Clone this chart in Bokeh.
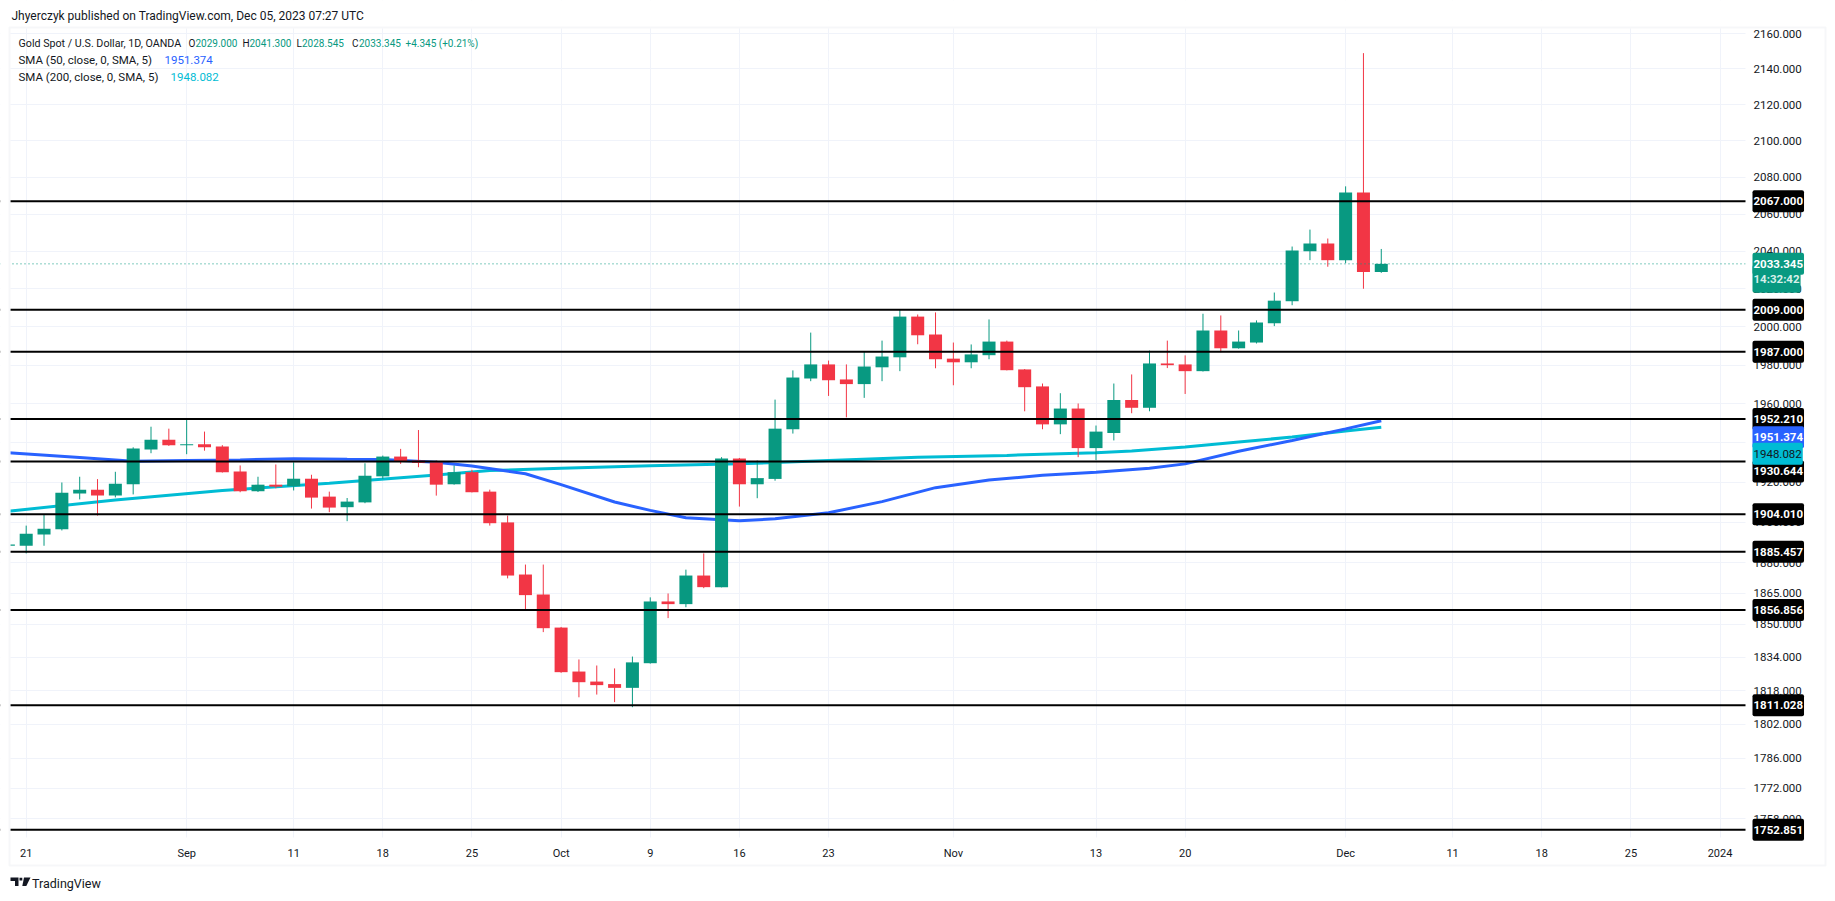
import numpy as np
from bokeh.plotting import figure
from bokeh.models import (Range1d, FixedTicker, Span, Label, PolyAnnotation,
                          BoxAnnotation, ColumnDataSource)
from bokeh.embed import file_html
from bokeh.resources import INLINE

# ---------------- data ----------------
dates = ["2023-08-18",
         "2023-08-21", "2023-08-22", "2023-08-23", "2023-08-24", "2023-08-25",
         "2023-08-28", "2023-08-29", "2023-08-30", "2023-08-31", "2023-09-01",
         "2023-09-04", "2023-09-05", "2023-09-06", "2023-09-07", "2023-09-08",
         "2023-09-11", "2023-09-12", "2023-09-13", "2023-09-14", "2023-09-15",
         "2023-09-18", "2023-09-19", "2023-09-20", "2023-09-21", "2023-09-22",
         "2023-09-25", "2023-09-26", "2023-09-27", "2023-09-28", "2023-09-29",
         "2023-10-02", "2023-10-03", "2023-10-04", "2023-10-05", "2023-10-06",
         "2023-10-09", "2023-10-10", "2023-10-11", "2023-10-12", "2023-10-13",
         "2023-10-16", "2023-10-17", "2023-10-18", "2023-10-19", "2023-10-20",
         "2023-10-23", "2023-10-24", "2023-10-25", "2023-10-26", "2023-10-27",
         "2023-10-30", "2023-10-31", "2023-11-01", "2023-11-02", "2023-11-03",
         "2023-11-06", "2023-11-07", "2023-11-08", "2023-11-09", "2023-11-10",
         "2023-11-13", "2023-11-14", "2023-11-15", "2023-11-16", "2023-11-17",
         "2023-11-20", "2023-11-21", "2023-11-22", "2023-11-23", "2023-11-24",
         "2023-11-27", "2023-11-28", "2023-11-29", "2023-11-30", "2023-12-01",
         "2023-12-04", "2023-12-05"]

opens = [1888.4,
         1888.4, 1894.0, 1896.6, 1914.5, 1916.4,
         1913.5, 1919.1, 1936.7, 1941.7, 1938.8,
         1939.3, 1938.2, 1925.5, 1915.6, 1918.9,
         1918.1, 1921.9, 1912.9, 1907.6, 1910.0,
         1923.1, 1933.1, 1931.1, 1930.2, 1919.1,
         1925.2, 1915.4, 1900.0, 1874.2, 1864.4,
         1848.3, 1827.1, 1822.3, 1821.1, 1819.3,
         1831.1, 1861.0, 1859.7, 1873.7, 1868.0,
         1932.1, 1919.1, 1921.8, 1947.0, 1973.1,
         1980.4, 1972.6, 1970.2, 1978.9, 1984.1,
         2005.4, 1996.0, 1983.4, 1981.5, 1985.2,
         1992.3, 1977.8, 1969.0, 1949.5, 1957.6,
         1937.4, 1945.1, 1962.0, 1958.0, 1980.9,
         1980.4, 1976.9, 1998.1, 1988.8, 1991.8,
         2001.9, 2013.5, 2040.1, 2044.2, 2035.3,
         2071.8, 2029.000]

highs = [1895.0,
         1898.4, 1903.9, 1920.0, 1922.9, 1921.7,
         1925.4, 1937.8, 1948.3, 1947.3, 1952.2,
         1945.8, 1938.9, 1928.6, 1922.9, 1929.1,
         1930.2, 1923.9, 1915.4, 1912.2, 1929.7,
         1933.6, 1937.0, 1946.6, 1931.1, 1928.6,
         1926.4, 1916.4, 1903.4, 1879.1, 1879.1,
         1848.6, 1832.9, 1830.0, 1828.6, 1834.3,
         1863.0, 1864.9, 1876.6, 1884.6, 1932.8,
         1932.4, 1931.1, 1962.2, 1977.3, 1997.0,
         1982.4, 1980.4, 1987.1, 1992.8, 2009.1,
         2006.5, 2007.6, 1991.8, 1990.8, 2003.9,
         1992.8, 1978.0, 1970.5, 1965.5, 1960.2,
         1948.9, 1970.5, 1975.2, 1987.6, 1992.8,
         1985.1, 2006.9, 2006.0, 1998.1, 2003.4,
         2018.1, 2042.6, 2051.7, 2046.9, 2075.1,
         2148.9, 2041.300]

lows = [1884.5,
        1884.6, 1888.4, 1896.0, 1911.5, 1903.4,
        1912.5, 1914.0, 1934.8, 1938.5, 1934.3,
        1936.1, 1925.0, 1915.1, 1915.2, 1917.1,
        1916.0, 1906.9, 1905.1, 1900.6, 1909.6,
        1921.8, 1929.4, 1927.7, 1913.4, 1918.9,
        1915.0, 1898.4, 1872.3, 1857.1, 1846.1,
        1826.5, 1814.8, 1816.1, 1812.5, 1810.1,
        1830.9, 1852.9, 1858.2, 1867.5, 1867.9,
        1907.9, 1912.1, 1920.9, 1944.8, 1971.7,
        1964.1, 1953.1, 1963.1, 1971.7, 1976.9,
        1990.9, 1978.4, 1969.6, 1978.4, 1983.1,
        1977.3, 1956.2, 1947.0, 1944.5, 1932.8,
        1931.3, 1941.3, 1955.2, 1956.2, 1978.5,
        1965.1, 1976.7, 1986.7, 1988.6, 1991.3,
        2000.4, 2011.4, 2035.3, 2031.8, 2033.7,
        2020.1, 2028.545]

closes = [1889.0,
          1894.3, 1896.9, 1914.9, 1916.4, 1913.5,
          1919.4, 1937.2, 1941.7, 1938.8, 1939.4,
          1937.8, 1925.2, 1915.6, 1918.9, 1917.9,
          1921.9, 1912.4, 1907.4, 1910.4, 1923.4,
          1933.1, 1930.7, 1929.9, 1918.9, 1925.2,
          1915.1, 1899.6, 1873.7, 1864.1, 1848.0,
          1826.8, 1822.0, 1820.6, 1819.3, 1831.5,
          1861.0, 1859.7, 1873.7, 1868.0, 1932.1,
          1919.1, 1922.2, 1947.3, 1973.6, 1980.4,
          1972.2, 1970.2, 1979.3, 1984.5, 2005.4,
          1995.6, 1983.1, 1981.5, 1985.6, 1992.3,
          1977.4, 1968.6, 1949.5, 1957.6, 1937.4,
          1945.8, 1962.0, 1958.0, 1980.9, 1980.0,
          1976.9, 1998.1, 1988.8, 1992.3, 2002.3,
          2013.8, 2040.5, 2044.2, 2035.3, 2071.8,
          2029.0, 2033.345]

sma_dates = ["2023-08-18", "2023-08-24", "2023-08-29", "2023-09-01", "2023-09-06",
             "2023-09-11", "2023-09-14", "2023-09-18", "2023-09-21", "2023-09-25",
             "2023-09-28", "2023-10-02", "2023-10-05", "2023-10-09", "2023-10-11",
             "2023-10-16", "2023-10-18", "2023-10-23", "2023-10-26", "2023-10-31",
             "2023-11-03", "2023-11-08", "2023-11-13", "2023-11-16", "2023-11-20",
             "2023-11-23", "2023-11-28", "2023-12-01", "2023-12-05"]
sma50 = [1935.0, 1932.6, 1930.7, 1931.1, 1931.4,
         1932.0, 1931.7, 1931.6, 1930.2, 1928.3,
         1924.4, 1918.9, 1910.2, 1906.0, 1902.3,
         1900.8, 1901.8, 1904.8, 1910.4, 1917.4,
         1921.2, 1923.6, 1925.2, 1927.2, 1929.4,
         1935.8, 1941.3, 1947.2, 1951.374]

sma200_dates = ["2023-08-18", "2023-08-28", "2023-09-05", "2023-09-13", "2023-09-21",
                "2023-09-26", "2023-10-02", "2023-10-09", "2023-10-16", "2023-10-23",
                "2023-10-30", "2023-11-06", "2023-11-13", "2023-11-15", "2023-11-20",
                "2023-11-23", "2023-11-28", "2023-12-01", "2023-12-05"]
sma200 = [1905.6, 1911.2, 1916.0, 1919.6, 1923.8,
          1926.0, 1927.2, 1928.4, 1929.4, 1931.1,
          1932.8, 1933.7, 1935.0, 1935.9, 1937.9,
          1940.5, 1943.0, 1946.1, 1948.082]

levels = [2067.000, 2009.000, 1987.000, 1952.210, 1930.644,
          1904.010, 1885.457, 1856.856, 1811.028, 1752.851]
last_price = 2033.345
countdown = "14:32:42"

ytick_vals = [2160, 2140, 2120, 2100, 2080, 2060, 2040, 2020, 2000, 1980, 1960,
              1940, 1920, 1900, 1880, 1865, 1850, 1834, 1818, 1802, 1786, 1772, 1758]
xtick_dates = ["2023-08-21", "2023-09-01", "2023-09-11", "2023-09-18", "2023-09-25",
               "2023-10-02", "2023-10-09", "2023-10-16", "2023-10-23", "2023-11-01",
               "2023-11-13", "2023-11-20", "2023-12-01", "2023-12-11", "2023-12-18",
               "2023-12-25", "2024-01-01"]
xtick_labels = ["21", "Sep", "11", "18", "25", "Oct", "9", "16", "23", "Nov",
                "13", "20", "Dec", "11", "18", "25", "2024"]

# ---------------- layout helpers (page pixels -> data space) ----------------
ORIGIN = "2023-08-21"
def bar_index(ds):
    return [int(np.busday_count(ORIGIN, d)) for d in ds]

BAR0_PX, BAR_PX = 25.7, 17.83          # page x of first labelled bar, bar spacing
def X(px):
    return (px - BAR0_PX) / BAR_PX
def Y(py):                               # log price scale
    return 2160.0 * np.exp(-(py - 33.0) / 3812.0)

W, H = 1832, 898
PL, PR, PT, PB = 10, 1745, 28, 837       # plotting pane
UP, DN = "#089981", "#F23645"
DARK = "#131722"
FONT = "Roboto"

idx = bar_index(dates)
src = ColumnDataSource(dict(
    x=idx, o=opens, h=highs, l=lows, c=closes,
    top=[max(a, b) for a, b in zip(opens, closes)],
    bot=[min(a, b) for a, b in zip(opens, closes)],
    col=[UP if c >= o else DN for o, c in zip(opens, closes)],
))

p = figure(width=W, height=H, min_border=0,
           x_range=Range1d(X(0), X(W)), y_range=Range1d(Y(H), Y(0)),
           y_axis_type="log", x_axis_location=None, y_axis_location=None,
           output_backend="svg", toolbar_location=None, tools="")
p.outline_line_color = None
p.background_fill_color = "white"
p.border_fill_color = "white"

yt = FixedTicker(ticks=ytick_vals, minor_ticks=[])
xt = FixedTicker(ticks=bar_index(xtick_dates), minor_ticks=[])
p.ygrid.ticker = yt
p.xgrid.ticker = xt
p.grid.grid_line_color = "#f0f3fa"
p.grid.grid_line_width = 1

# moving averages
p.line(bar_index(sma200_dates), sma200, line_color="#00BCD4", line_width=3)
p.line(bar_index(sma_dates), sma50, line_color="#2962FF", line_width=3)

# candles
p.segment(x0="x", y0="l", x1="x", y1="h", line_color="col", line_width=1, source=src)
p.vbar(x="x", width=0.73, top="top", bottom="bot", fill_color="col", line_color=None, source=src)

# horizontal levels
for lv in levels:
    p.add_layout(Span(location=lv, dimension="width", line_color="black", line_width=2))
p.add_layout(Span(location=last_price, dimension="width", line_color=UP,
                  line_width=1, line_dash="1 3"))

# mask everything outside the plotting pane
for l_, r_, t_, b_ in [(0, W, 0, PT), (0, W, PB, H), (0, PL, 0, H), (PR, W, 0, H)]:
    p.add_layout(BoxAnnotation(left=X(l_), right=X(r_), top=Y(t_), bottom=Y(b_),
                               fill_color="white", fill_alpha=1, line_color=None,
                               line_alpha=0))

# outer frame
p.add_layout(PolyAnnotation(xs=[X(9), X(1825), X(1825), X(9)],
                            ys=[Y(27), Y(27), Y(865), Y(865)],
                            fill_alpha=0, line_color="#e0e3eb", line_width=2))

# --------------- text ---------------
def lab(text, px, py, color=DARK, size="10.5px", bold=False, align="left"):
    p.add_layout(Label(x=X(px), y=Y(py), text=text, text_font=FONT, text_font_size=size,
                       text_color=color, text_baseline="middle", text_align=align,
                       text_font_style="bold" if bold else "normal"))

# price-axis tick labels
for v in ytick_vals:
    p.add_layout(Label(x=X(1753), y=v, text=f"{v:.3f}", text_font=FONT,
                       text_font_size="11.5px", text_color=DARK,
                       text_baseline="middle", text_align="left"))
# time-axis tick labels
for i, s in zip(bar_index(xtick_dates), xtick_labels):
    p.add_layout(Label(x=i, y=Y(852.5), text=s, text_font=FONT, text_font_size="11px",
                       text_color=DARK, text_baseline="middle", text_align="center"))

# price boxes on the axis
def pricebox(val, text, bg, fg, yoff=0, bold=True):
    p.add_layout(Label(x=X(PR), y=val, text=text, x_offset=7, y_offset=yoff,
                       text_font=FONT, text_font_size="11.5px", text_color=fg,
                       text_font_style="bold" if bold else "normal",
                       text_baseline="middle", text_align="left",
                       background_fill_color=bg, background_fill_alpha=1,
                       padding=(1, 7), border_radius=2))

shifts = {1930.644: -10}
for lv in levels:
    pricebox(lv, f"{lv:.3f}", "black", "white", yoff=shifts.get(lv, 0))
pricebox(sma50[-1], f"{sma50[-1]:.3f}", "#2962FF", "white", yoff=-16.6)
pricebox(sma200[-1], f"{sma200[-1]:.3f}", "#00BCD4", DARK, yoff=-26.7, bold=False)
pricebox(last_price, countdown, UP, "#d6efe9", yoff=-15)
pricebox(last_price, f"{last_price:.3f}", UP, "white", yoff=0)

# header
lab("Jhyerczyk published on TradingView.com, Dec 05, 2023 07:27 UTC", 11, 15, size="12px")
row1 = 42.7
R1 = "10px"
lab("Gold Spot / U.S. Dollar, 1D, OANDA", 18, row1, size="10.7px")
lab("O", 188, row1, size=R1); lab(f"{opens[-1]:.3f}", 195, row1, color=UP, size=R1)
lab("H", 242, row1, size=R1); lab(f"{highs[-1]:.3f}", 249, row1, color=UP, size=R1)
lab("L", 296, row1, size=R1); lab(f"{lows[-1]:.3f}", 301.5, row1, color=UP, size=R1)
lab("C", 351.5, row1, size=R1); lab(f"{closes[-1]:.3f}", 358.5, row1, color=UP, size=R1)
lab("+4.345 (+0.21%)", 405, row1, color=UP, size=R1)
lab("SMA (50, close, 0, SMA, 5)", 18, 59.3, size="11.5px")
lab(f"{sma50[-1]:.3f}", 164, 59.3, color="#2962FF", size="11.5px")
lab("SMA (200, close, 0, SMA, 5)", 18, 76.7, size="11.5px")
lab(f"{sma200[-1]:.3f}", 170, 76.7, color="#00BCD4", size="11.5px")

# footer logo + text
for xs_, ys_ in [([10, 18, 18, 14.5, 14.5, 10], [877, 877, 885.5, 885.5, 880.5, 880.5]),
                 ([19, 21.8, 21.8, 19], [877.2, 877.2, 880, 880]),
                 ([23.5, 30, 25.8, 21.8], [877, 877, 885.5, 885.5])]:
    p.add_layout(PolyAnnotation(xs=[X(v) for v in xs_], ys=[Y(v) for v in ys_],
                                fill_color=DARK, fill_alpha=1, line_color=None, line_alpha=0))
lab("TradingView", 31.5, 882.5, size="12.5px")

open("out.html", "w").write(file_html(p, INLINE))
